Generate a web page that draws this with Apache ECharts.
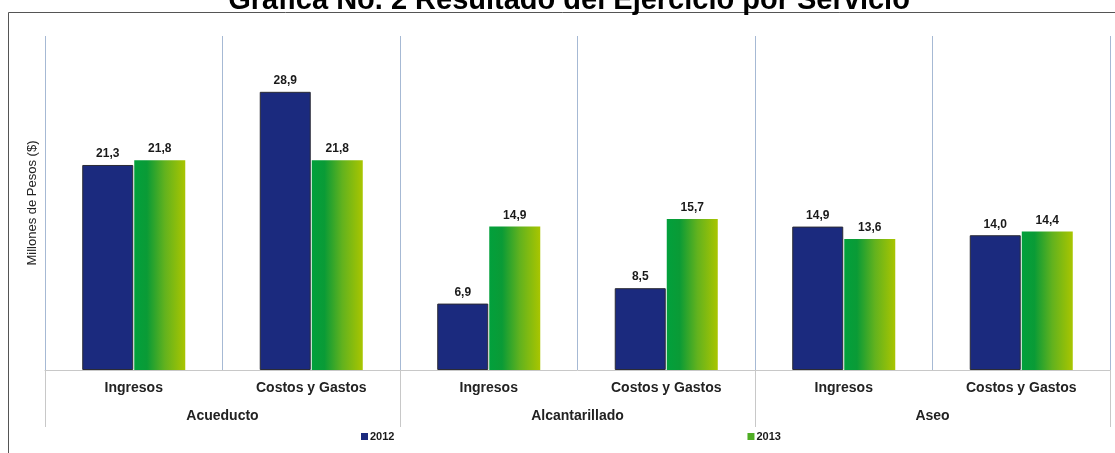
<!DOCTYPE html>
<html>
<head>
<meta charset="utf-8">
<script src="https://cdn.jsdelivr.net/npm/echarts@6/dist/echarts.min.js"></script>
<style>
html,body{margin:0;padding:0;background:#fff;}
#chart{width:1115px;height:453px;}
</style>
</head>
<body>
<div id="chart"></div>
<script>
const titleText = 'Gráfica No. 2 Resultado del Ejercicio por Servicio';
const yAxisName = 'Millones de Pesos ($)';
const categories = ['Ingresos', 'Costos y Gastos', 'Ingresos', 'Costos y Gastos', 'Ingresos', 'Costos y Gastos'];
const groups = ['Acueducto', 'Alcantarillado', 'Aseo'];
const seriesNames = ['2012', '2013'];
const values2012 = [21.3, 28.9, 6.9, 8.5, 14.9, 14.0];
const values2013 = [21.8, 21.8, 14.9, 15.7, 13.6, 14.4];

const chart = echarts.init(document.getElementById('chart'), null, {renderer: 'canvas'});
const fmt = p => p.value.toFixed(1).replace('.', ',');
const labelStyle = {show: true, position: 'top', distance: 5, formatter: fmt,
  fontFamily: 'Liberation Sans, Arial', fontWeight: 'bold', fontSize: 12, color: '#1a1a1a'};
const blue = '#1b2a7e';
const green = new echarts.graphic.LinearGradient(0, 0, 1, 0, [
  {offset: 0, color: '#02a03c'},
  {offset: 0.25, color: '#0a9b36'},
  {offset: 0.6, color: '#62b21e'},
  {offset: 1, color: '#a9c500'}
]);

chart.setOption({
  animation: false,
  backgroundColor: '#fff',
  textStyle: {fontFamily: 'Liberation Sans, Arial'},
  grid: {left: 45, right: 5, top: 36, bottom: 83, containLabel: false},
  legend: {
    left: 356, top: 426,
    itemWidth: 7, itemHeight: 7, itemGap: 353,
    icon: 'rect',
    textStyle: {fontFamily: 'Liberation Sans, Arial', fontWeight: 'bold', fontSize: 11, color: '#1a1a1a', padding: [0, 0, 0, -3]},
    data: [
      {name: seriesNames[0], itemStyle: {color: blue, borderWidth: 0}},
      {name: seriesNames[1], itemStyle: {color: '#4fad24', borderWidth: 0}}
    ]
  },
  xAxis: [
    {
      type: 'category', data: categories, position: 'bottom',
      axisLine: {show: true, lineStyle: {color: '#c8c8c8', width: 1}},
      axisTick: {show: false},
      splitLine: {show: true, interval: 0, lineStyle: {color: '#a6b9d4', width: 1}},
      axisLabel: {interval: 0, margin: 11, fontFamily: 'Liberation Sans, Arial', fontWeight: 'bold', fontSize: 14, color: '#222'}
    },
    {
      type: 'category', data: groups, position: 'bottom',
      axisLine: {show: false},
      axisTick: {show: true, length: 57, interval: 0, lineStyle: {color: '#c8c8c8', width: 1}},
      axisLabel: {interval: 0, margin: 39, fontFamily: 'Liberation Sans, Arial', fontWeight: 'bold', fontSize: 14, color: '#222'}
    }
  ],
  yAxis: {
    type: 'value', min: 0, max: 34.7,
    name: yAxisName, nameLocation: 'middle', nameGap: 6, nameRotate: 90,
    nameTextStyle: {fontFamily: 'Liberation Sans, Arial', fontSize: 13, color: '#222'},
    axisLine: {show: false}, axisTick: {show: false}, axisLabel: {show: false},
    splitLine: {show: false}
  },
  series: [
    {
      name: seriesNames[0], type: 'bar', xAxisIndex: 0, data: values2012,
      barWidth: 51, barGap: '2%',
      itemStyle: {color: blue, borderColor: '#2b2b35', borderWidth: 1},
      label: labelStyle
    },
    {
      name: seriesNames[1], type: 'bar', xAxisIndex: 0, data: values2013,
      barWidth: 51, barGap: '2%',
      itemStyle: {color: green},
      label: labelStyle
    }
  ],
  graphic: [
    {type: 'rect', silent: true, z: -1, shape: {x: 8.5, y: 12.5, width: 1200, height: 600},
     style: {fill: null, stroke: '#555', lineWidth: 1}},
    {type: 'text', silent: true, x: 569, y: 15, z: 10,
     style: {text: titleText, align: 'center', verticalAlign: 'bottom',
       fontFamily: 'Liberation Sans, Arial', fontWeight: 'bold', fontSize: 29, fill: '#000'}}
  ]
});
</script>
</body>
</html>
